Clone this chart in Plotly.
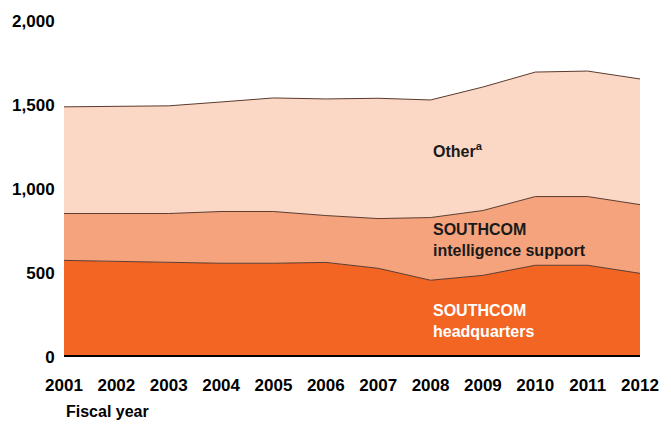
import plotly.graph_objects as go

years = list(range(2001, 2013))
headquarters = [575, 569, 563, 558, 558, 563, 528, 457, 486, 546, 546, 498]
intel_support = [279, 285, 291, 308, 308, 279, 296, 373, 386, 409, 409, 409]
other = [635, 636, 641, 652, 676, 694, 716, 700, 735, 741, 747, 748]

y_ticks = [0, 500, 1000, 1500, 2000]
y_tick_labels = ["0", "500", "1,000", "1,500", "2,000"]

FONT = "Liberation Sans, Arial, sans-serif"
line_col = "#5b3b2e"

fig = go.Figure()
fig.add_trace(go.Scatter(x=years, y=headquarters, stackgroup="one", mode="lines",
                         line=dict(color=line_col, width=1), fillcolor="#F26522",
                         name="SOUTHCOM headquarters"))
fig.add_trace(go.Scatter(x=years, y=intel_support, stackgroup="one", mode="lines",
                         line=dict(color=line_col, width=1), fillcolor="#F5A37D",
                         name="SOUTHCOM intelligence support"))
fig.add_trace(go.Scatter(x=years, y=other, stackgroup="one", mode="lines",
                         line=dict(color=line_col, width=1), fillcolor="#FBD8C6",
                         name="Other"))

fig.add_shape(type="line", xref="x", yref="y", x0=2001, x1=2012, y0=0, y1=0,
              line=dict(color="black", width=4))

ann_font = dict(family=FONT, size=16, weight="bold")
fig.add_annotation(x=2008.0, y=1230, xref="x", yref="y", text="Other<sup>a</sup>",
                   showarrow=False, xanchor="left", font=dict(color="#1a1a1a", **ann_font))
fig.add_annotation(x=2008.0, y=697, xref="x", yref="y",
                   text="SOUTHCOM<br>intelligence support",
                   showarrow=False, xanchor="left", align="left",
                   font=dict(color="#1a1a1a", **ann_font))
fig.add_annotation(x=2008.0, y=215, xref="x", yref="y",
                   text="SOUTHCOM<br>headquarters",
                   showarrow=False, xanchor="left", align="left",
                   font=dict(color="white", **ann_font))
fig.add_annotation(x=0, y=-0.162, xref="paper", yref="paper", text="Fiscal year",
                   showarrow=False, xanchor="left", yanchor="middle",
                   font=dict(color="black", family=FONT, size=16, weight="bold"))

fig.update_layout(
    width=671, height=426,
    margin=dict(l=62, r=20, t=18, b=69),
    plot_bgcolor="white", paper_bgcolor="white",
    showlegend=False,
    font=dict(family=FONT, color="black"),
)
fig.update_xaxes(range=[2001, 2012], tickvals=years, ticktext=[str(y) for y in years],
                 showgrid=False, zeroline=False, showline=False,
                 ticks="outside", ticklen=13, tickcolor="rgba(0,0,0,0)",
                 tickfont=dict(family=FONT, size=17, weight="bold", color="black"))
fig.update_yaxes(range=[0, 2000], tickvals=y_ticks, ticktext=y_tick_labels,
                 showgrid=False, zeroline=False, showline=False,
                 ticks="outside", ticklen=5, tickcolor="rgba(0,0,0,0)",
                 tickfont=dict(family=FONT, size=17, weight="bold", color="black"))

fig.write_html("out.html", config={"displayModeBar": False},
               post_script="document.body.style.margin='0';")
